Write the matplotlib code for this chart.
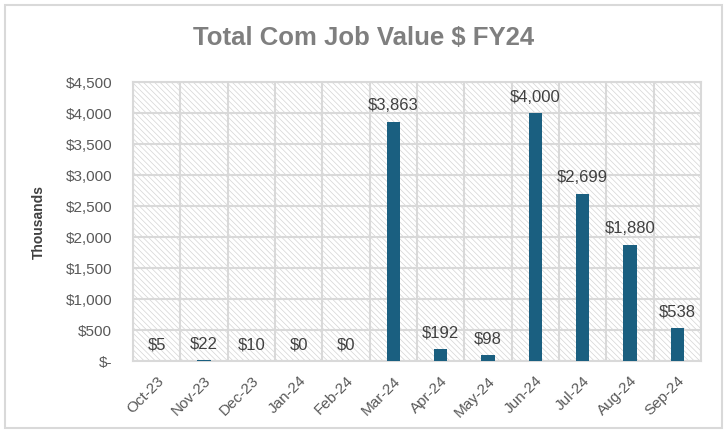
import numpy as np
import matplotlib.pyplot as plt
from matplotlib.patches import Rectangle

months = ['Oct-23', 'Nov-23', 'Dec-23', 'Jan-24', 'Feb-24', 'Mar-24',
          'Apr-24', 'May-24', 'Jun-24', 'Jul-24', 'Aug-24', 'Sep-24']
values = [5, 22, 10, 0, 0, 3863, 192, 98, 4000, 2699, 1880, 538]
yticks = [0, 500, 1000, 1500, 2000, 2500, 3000, 3500, 4000, 4500]

plt.rcParams['font.family'] = ['Liberation Sans', 'DejaVu Sans']
plt.rcParams['hatch.linewidth'] = 0.5

fig = plt.figure(figsize=(7.28, 4.32), dpi=100)
ax = fig.add_axes([0.1827, 0.164, 0.7803, 0.646])

# outer frame of the chart
fig.patches.append(Rectangle((0.007, 0.009), 0.985, 0.98, transform=fig.transFigure,
                             fill=False, edgecolor='#d9d9d9', lw=1.5))

# hatched plot background
ax.add_patch(Rectangle((0, 0), 1, 1, transform=ax.transAxes, facecolor='white',
                       edgecolor='#d4d4d4', hatch='\\\\\\\\\\\\', lw=0, zorder=0))

x = np.arange(len(months))
ax.bar(x, values, width=0.28, color='#1a5f80', zorder=3)

for xi, v in zip(x, values):
    ax.annotate(f'${v:,}', (xi, v), xytext=(0, 6), textcoords='offset points',
                ha='center', va='bottom', fontsize=12, color='#404040', zorder=4)

ax.set_xlim(-0.5, len(months) - 0.5)
ax.set_ylim(0, 4500)
ax.set_yticks(yticks)
ax.set_yticklabels(['$-'] + [f'${t:,}' for t in yticks[1:]])
ax.set_xticks(x)
ax.set_xticklabels(months, rotation=45, ha='right', rotation_mode='anchor')
ax.set_xticks(np.arange(-0.5, len(months)), minor=True)

ax.grid(axis='y', color='#d9d9d9', lw=1.5, zorder=1)
ax.grid(axis='x', which='minor', color='#d9d9d9', lw=1.5, zorder=1)
ax.set_axisbelow(True)
for s in ax.spines.values():
    s.set_color('#d9d9d9')
    s.set_linewidth(1.5)

ax.tick_params(axis='both', which='both', length=0, colors='#595959', labelsize=11)
ax.tick_params(axis='y', pad=15)
ax.tick_params(axis='x', pad=9)

ax.set_ylabel('Thousands', fontsize=10, fontweight='bold', color='#404040', labelpad=14)

fig.text(0.5, 0.912, 'Total Com Job Value $ FY24', ha='center', va='center',
         fontsize=18.5, fontweight='bold', color='#7f7f7f')

fig.savefig('out.png', dpi=100)
